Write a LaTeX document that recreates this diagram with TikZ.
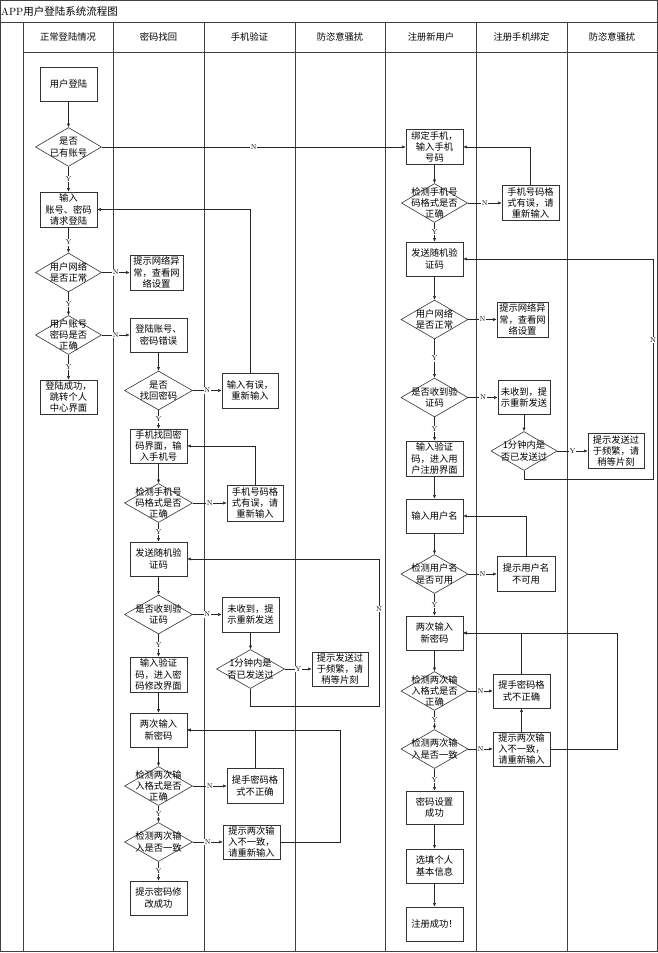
\documentclass[tikz,border=0pt]{standalone}
\usepackage{fontspec}
\newfontfamily\cjk{Noto Sans CJK SC}
\usetikzlibrary{shapes.geometric,arrows.meta}
\newcommand\mydia[4][67]{\node[dia,minimum width=#1pt] (#2) at (#3) {};\node[dtext] at (#2) {#4};}
\begin{document}
\begin{tikzpicture}[x=1pt,y=-1pt,
  box/.style={draw=black!80,line width=0.6pt,rectangle,inner sep=0pt,minimum width=57pt,minimum height=34pt,align=center,font=\cjk\fontsize{9.3}{11.4}\selectfont},
  dia/.style={draw=black!80,line width=0.6pt,diamond,inner sep=0pt,minimum height=39pt},
  dtext/.style={align=center,inner sep=0pt,font=\cjk\fontsize{9.3}{11.4}\selectfont},
  head/.style={font=\cjk\fontsize{9.3}{11}\selectfont,inner sep=0pt},
  lab/.style={font=\fontsize{7}{7}\selectfont,fill=white,inner sep=0.7pt},
  arr/.style={draw=black!85,line width=0.5pt,-{Latex[length=3.5pt,width=3pt]}},
  frame/.style={draw=black!75}]
\useasboundingbox (0,0) rectangle (658,953);
% frame
\draw[frame,line width=0.8pt] (0.4,0.4) rectangle (657.6,22.5);
\node[anchor=west,inner sep=0pt,font=\fontsize{10.5}{12}\selectfont] (title) at (1,11.5) {APP{\cjk 用户登陆系统流程图}};
\draw[frame,line width=1.2pt] (0.6,22.5) rectangle (657.4,951.6);
\foreach \x in {23,113,204,295,385.5,476,567}
  \draw[frame,line width=0.9pt] (\x,22.5) -- (\x,951.6);
\draw[frame,line width=0.8pt] (23,52) -- (657.4,52);
\node[head] (h1) at (68,37) {正常登陆情况};
\node[head] (h2) at (158.5,37) {密码找回};
\node[head] (h3) at (249.5,37) {手机验证};
\node[head] (h4) at (340,37) {防恣意骚扰};
\node[head] (h5) at (431,37) {注册新用户};
\node[head] (h6) at (521.5,37) {注册手机绑定};
\node[head] (h7) at (612,37) {防恣意骚扰};
% lane 1
\node[box] (a1) at (68.5,84) {用户登陆};
\mydia[66]{a2}{68.5,147}{是否\\已有账号}
\node[box,minimum height=35pt] (a3) at (68.5,209.5) {输入\\账号、密码\\请求登陆};
\mydia[66]{a4}{68.5,272.5}{用户网络\\是否正常}
\mydia[66]{a5}{68.5,335}{用户账号\\密码是否\\正确}
\node[box] (a6) at (68.5,397) {登陆成功，\\跳转个人\\中心界面};
% lane 2
\node[box,minimum width=53pt,minimum height=35pt] (b1) at (156.5,272.5) {提示网络异\\常，查看网\\络设置};
\node[box] (b2) at (158.5,335) {登陆账号、\\密码错误};
\mydia[68]{b3}{158.5,390.5}{是否\\找回密码}
\node[box] (b4) at (158.5,446) {手机找回密\\码界面，输\\入手机号};
\mydia[68]{b5}{158.5,503}{检测手机号\\码格式是否\\正确}
\node[box] (b6) at (158.5,559) {发送随机验\\证码};
\mydia[68]{b7}{158.5,614.5}{是否收到验\\证码}
\node[box,minimum height=35pt] (b8) at (158.5,674.5) {输入验证\\码，进入密\\码修改界面};
\node[box] (b9) at (158.5,730) {两次输入\\新密码};
\mydia[68]{b10}{158.5,786}{检测两次输\\入格式是否\\正确}
\mydia[68]{b11}{158.5,842}{检测两次输\\入是否一致}
\node[box] (b12) at (158.5,898) {提示密码修\\改成功};
% lane 3
\node[box,minimum width=56pt,minimum height=35pt] (c1) at (250,390.5) {输入有误，\\重新输入};
\node[box,minimum width=56pt,minimum height=36pt] (c2) at (255,503) {手机号码格\\式有误，请\\重新输入};
\node[box,minimum height=35pt] (c3) at (250.5,614.5) {未收到，提\\示重新发送};
\mydia[68]{c4}{250.5,669}{1分钟内是\\否已发送过}
\node[box,minimum width=56pt,minimum height=35pt] (c5) at (255,786) {提手密码格\\式不正确};
\node[box] (c6) at (251.5,842) {提示两次输\\入不一致，\\请重新输入};
% lane 4
\node[box,minimum width=56pt] (d1) at (340,669) {提示发送过\\于频繁，请\\稍等片刻};
% lane 5
\node[box,minimum height=35pt] (e1) at (434.5,147) {绑定手机，\\输入手机\\号码};
\mydia[66]{e2}{434.5,203}{检测手机号\\码格式是否\\正确}
\node[box] (e3) at (434.5,259) {发送随机验\\证码};
\mydia{e4}{434.5,319.5}{用户网络\\是否正常}
\mydia{e5}{434.5,397.5}{是否收到验\\证码}
\node[box,minimum height=35pt] (e6) at (434.5,458.5) {输入验证\\码，进入用\\户注册界面};
\node[box] (e7) at (434.5,516) {输入用户名};
\mydia{e8}{434.5,574}{检测用户名\\是否可用}
\node[box] (e9) at (434.5,633) {两次输入\\新密码};
\mydia{e10}{434.5,691}{检测两次输\\入格式是否\\正确}
\mydia{e11}{434.5,749}{检测两次输\\入是否一致}
\node[box,minimum height=33pt] (e12) at (434.5,807.5) {密码设置\\成功};
\node[box] (e13) at (434.5,866) {选填个人\\基本信息};
\node[box] (e14) at (434.5,924) {注册成功！};
% lane 6
\node[box,minimum height=35pt] (f1) at (530.5,203) {手机号码格\\式有误，请\\重新输入};
\node[box,minimum width=51pt,minimum height=35pt] (f2) at (522.5,319.5) {提示网络异\\常，查看网\\络设置};
\node[box,minimum width=52pt] (f3) at (524,397.5) {未收到，提\\示重新发送};
\mydia[66]{f4}{524,451}{1分钟内是\\否已发送过}
\node[box,minimum width=58pt,minimum height=35pt] (f5) at (526,574) {提示用户名\\不可用};
\node[box] (f6) at (521.5,691) {提手密码格\\式不正确};
\node[box] (f7) at (521.5,749) {提示两次输\\入不一致，\\请重新输入};
% lane 7
\node[box,minimum width=56pt,minimum height=35pt] (g1) at (616,451) {提示发送过\\于频繁，请\\稍等片刻};
% coordinates for loops
\coordinate (c4b) at (250.5,706);
\coordinate (c4r) at (379,706);
\coordinate (c4t) at (379,559);
\coordinate (c6x) at (340,730);
\coordinate (f4b) at (524,479);
\coordinate (f4r) at (653,479);
\coordinate (f4t) at (653,259);
\coordinate (f7x) at (617,633);
% lane 1 edges
\draw[arr] (a1) -- (a2);
\draw[arr] (a2) -- node[lab]{Y} (a3);
\draw[arr] (a3) -- node[lab,pos=0.6]{Y} (a4);
\draw[arr] (a4) -- node[lab]{Y} (a5);
\draw[arr] (a5) -- node[lab]{Y} (a6);
\draw[arr] (a2.east) -- node[lab]{N} (e1.west);
\draw[arr] (a4) -- node[lab]{N} (b1);
\draw[arr] (a5) -- node[lab]{N} (b2);
% lane 2 edges
\draw[arr] (b2) -- (b3);
\draw[arr] (b3) -- node[lab]{N} (c1);
\draw[arr] (b3) -- node[lab]{Y} (b4);
\draw[arr] (b4) -- (b5);
\draw[arr] (b5) -- node[lab]{N} (c2);
\draw[arr] (b5) -- node[lab]{Y} (b6);
\draw[arr] (b6) -- (b7);
\draw[arr] (b7) -- node[lab]{N} (c3);
\draw[arr] (b7) -- node[lab]{Y} (b8);
\draw[arr] (b8) -- (b9);
\draw[arr] (b9) -- (b10);
\draw[arr] (b10) -- node[lab]{N} (c5);
\draw[arr] (b10) -- node[lab]{Y} (b11);
\draw[arr] (b11) -- node[lab]{N} (c6);
\draw[arr] (b11) -- node[lab]{Y} (b12);
% lane 3/4 edges
\draw[arr] (c1.north) |- (a3.east);
\draw[arr] (c2.north) |- (b4.east);
\draw[arr] (c3) -- (c4);
\draw[arr] (c4) -- node[lab]{Y} (d1);
\draw[arr] (c4.south) -- (c4b) -- (c4r) -- node[lab,pos=0.66]{N} (c4t) -- (b6.east);
\draw[arr] (c5.north) |- (b9.east);
\draw[arr] (c6.east) -| (c6x) -- (b9.east);
% lane 5 edges
\draw[arr] (e1) -- (e2);
\draw[arr] (e2) -- node[lab]{N} (f1);
\draw[arr] (e2) -- node[lab]{Y} (e3);
\draw[arr] (e3) -- (e4);
\draw[arr] (e4) -- node[lab]{N} (f2);
\draw[arr] (e4) -- node[lab]{Y} (e5);
\draw[arr] (e5) -- node[lab]{N} (f3);
\draw[arr] (e5) -- node[lab]{Y} (e6);
\draw[arr] (e6) -- (e7);
\draw[arr] (e7) -- (e8);
\draw[arr] (e8) -- node[lab]{N} (f5);
\draw[arr] (e8) -- node[lab]{Y} (e9);
\draw[arr] (e9) -- (e10);
\draw[arr] (e10) -- node[lab]{N} (f6);
\draw[arr] (e10) -- node[lab]{Y} (e11);
\draw[arr] (e11) -- node[lab]{N} (f7);
\draw[arr] (e11) -- node[lab]{Y} (e12);
\draw[arr] (e12) -- (e13);
\draw[arr] (e13) -- (e14);
% lane 6/7 edges
\draw[arr] (f1.north) |- (e1.east);
\draw[arr] (f3) -- (f4);
\draw[arr] (f4) -- node[lab]{Y} (g1);
\draw[arr] (f4.south) -- (f4b) -- (f4r) -- node[lab,pos=0.63]{N} (f4t) -- (e3.east);
\draw[arr] (f5.north) |- (e7.east);
\draw[arr] (f6.north) |- (e9.east);
\draw[arr] (f7) -- (f6);
\draw[arr] (f7.east) -| (f7x) -- (e9.east);
\end{tikzpicture}
\end{document}
